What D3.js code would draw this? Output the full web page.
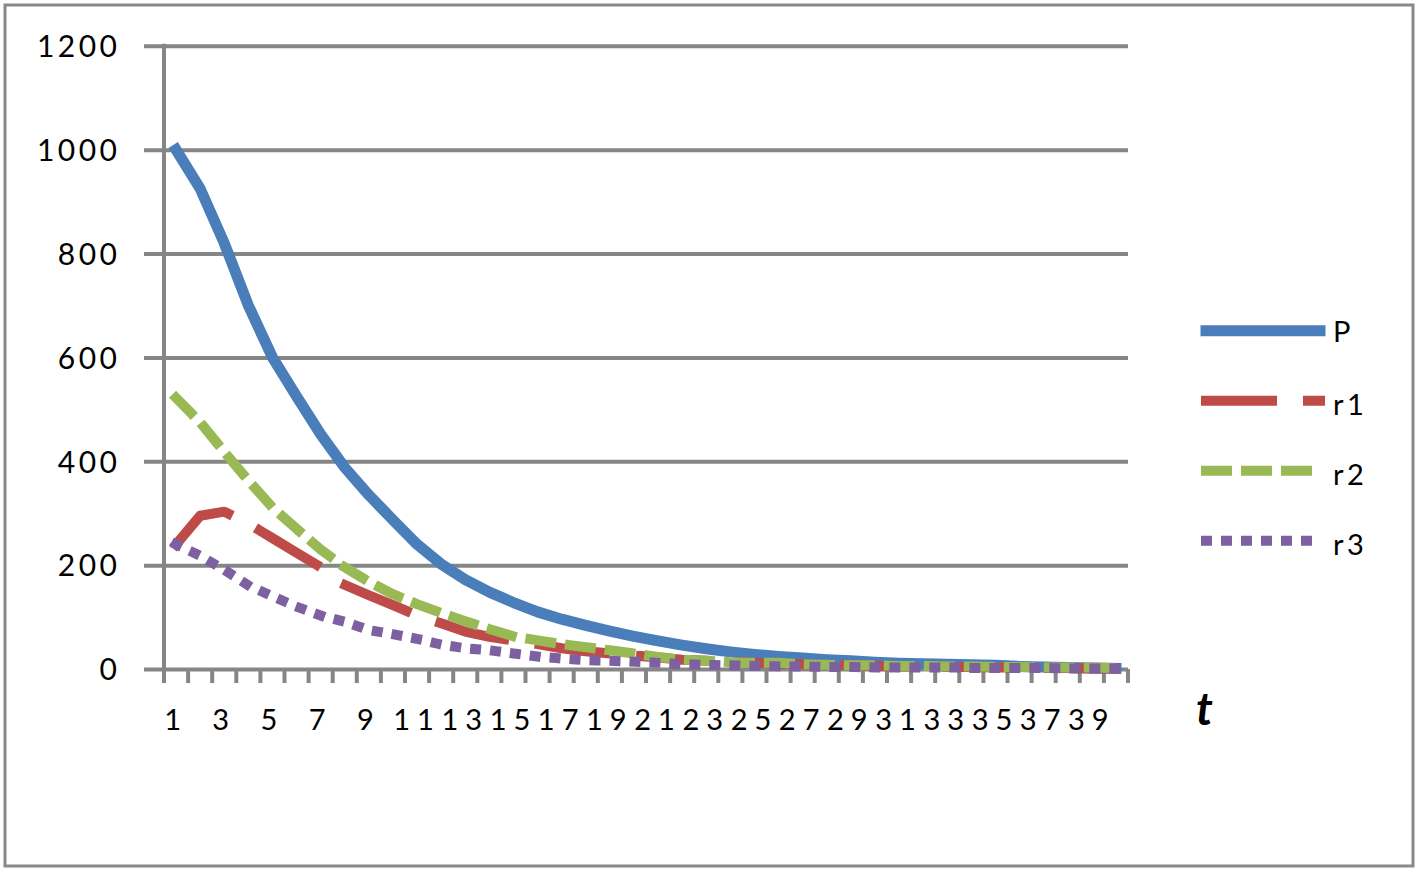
<!DOCTYPE html>
<html><head><meta charset="utf-8">
<script src="https://cdn.jsdelivr.net/npm/d3@7"></script>
<style>
html,body{margin:0;padding:0;background:#fff;}
svg{display:block;}
</style></head><body>
<svg id="chart" width="1417" height="871"></svg>
<script>
const categories = [1,2,3,4,5,6,7,8,9,10,11,12,13,14,15,16,17,18,19,20,21,22,23,24,25,26,27,28,29,30,31,32,33,34,35,36,37,38,39,40];
const seriesNames = ["P","r1","r2","r3"];
const P  = [1000,925,820,700,600,525,452,388,335,287,240,202,172,148,128,110,96,84,73,63,54,46,39,33,28,24,21,18,16,13,11,10,9,8,7,5,4,3,2,1];
const r1 = [240,295,303,280,252,224,196,162,142,123,103,88,72,62,55,48,40,34,30,26,22,18,16,14,12,10,9,8,7,6,5,5,4,4,3,3,2,2,1,1];
const r2 = [522,475,418,363,311,270,230,196,168,144,125,108,92,77,63,55,48,42,36,30,23,18,16,13,12,12,9,8,7,7,6,6,5,5,4,4,3,3,3,2];
const r3 = [240,218,191,161,140,120,103,91,75,67,58,47,40,36,30,24,20,17,16,14,12,9,8,7,6,5,5,4,4,3,3,3,3,2,2,2,2,1,1,1];
const yTicks = [0,200,400,600,800,1000,1200];
const xLabelCategories = [1,3,5,7,9,11,13,15,17,19,21,23,25,27,29,31,33,35,37,39];
const axisTitle = "t";

const seriesValues = {P: P, r1: r1, r2: r2, r3: r3};
const colors = {P:"#4A7EBB", r1:"#BE4B48", r2:"#98B954", r3:"#7D60A0"};
const dashes = {P:null, r1:"66,36", r2:"21,19", r3:"1,19"};
const widths = {P:11, r1:10, r2:10, r3:10};
const FONT = "Lato, 'Open Sans', sans-serif";
const grid = "#868686";

const svg = d3.select("#chart");
svg.append("rect").attr("x",5).attr("y",5).attr("width",1408).attr("height",861)
  .attr("fill","#fff").attr("stroke","#898989").attr("stroke-width",3);

const plotLeft = 164, plotRight = 1128, yTop = 45.8, yBottom = 669, gridStart = 144;
const x = d3.scaleBand().domain(categories).range([plotLeft, plotRight]);
const y = d3.scaleLinear().domain([0,1200]).range([yBottom, yTop]);

// y axis + gridlines
const yAxis = d3.axisLeft(y).tickValues(yTicks).tickFormat(d3.format("d"))
  .tickSize(-(plotRight-gridStart)).tickPadding(23.5).tickSizeOuter(0);
const gy = svg.append("g").attr("transform",`translate(${gridStart},0)`).call(yAxis)
  .attr("font-family", FONT);
gy.select(".domain").remove();
gy.selectAll(".tick line").attr("stroke",grid).attr("stroke-width",4);
gy.selectAll(".tick text").attr("font-size",30).attr("letter-spacing","3.5px")
  .attr("fill","#000").attr("dy","10.8px").attr("font-family",FONT);

// vertical axis line
svg.append("line").attr("x1",plotLeft).attr("x2",plotLeft)
  .attr("y1",y.range()[1]-2).attr("y2",yBottom)
  .attr("stroke",grid).attr("stroke-width",4);

// x axis
const xAxis = d3.axisBottom(x).tickSize(14).tickSizeOuter(0)
  .tickFormat(d => xLabelCategories.includes(d) ? String(d) : "");
const gx = svg.append("g").attr("transform",`translate(0,${yBottom})`).call(xAxis)
  .attr("font-family", FONT);
gx.select(".domain").remove();
gx.selectAll(".tick line").attr("x1",-x.step()/2).attr("x2",-x.step()/2)
  .attr("y1",0).attr("stroke",grid).attr("stroke-width",4);
gx.append("line").attr("x1",plotRight).attr("x2",plotRight).attr("y1",0).attr("y2",14)
  .attr("stroke",grid).attr("stroke-width",4);
gx.selectAll(".tick text").attr("y",61).attr("dy",0).attr("font-size",29)
  .attr("letter-spacing","7px").attr("fill","#000").attr("font-family",FONT);

// series lines
const line = d3.line()
  .x(d => x(d.c) + x.bandwidth()/2)
  .y(d => y(d.v));
seriesNames.forEach(name => {
  const data = categories.map((c,i) => ({c, v: seriesValues[name][i]}));
  svg.append("path").datum(data)
    .attr("d", line)
    .attr("fill","none")
    .attr("stroke", colors[name])
    .attr("stroke-width", widths[name])
    .attr("stroke-linecap","square")
    .attr("stroke-linejoin","round")
    .attr("stroke-dasharray", dashes[name]);
});

// legend
const legendY = [330.7, 400.7, 470.7, 540.7];
seriesNames.forEach((name,i) => {
  const ly = legendY[i];
  svg.append("path").attr("d", d3.line()([[1206,ly],[1320,ly]]))
    .attr("fill","none").attr("stroke",colors[name]).attr("stroke-width",widths[name])
    .attr("stroke-linecap","square").attr("stroke-dasharray",dashes[name]);
  svg.append("text").attr("x",1333).attr("y",ly + (i===0 ? 11 : 14))
    .attr("font-family",FONT).attr("font-size",29).attr("letter-spacing","3.5px")
    .attr("fill","#000").text(name);
});

// axis title
svg.append("text").attr("x",1196).attr("y",725)
  .attr("font-family",FONT).attr("font-size",46).attr("font-weight","bold")
  .attr("font-style","italic").attr("fill","#000").text(axisTitle);
</script>
</body></html>
